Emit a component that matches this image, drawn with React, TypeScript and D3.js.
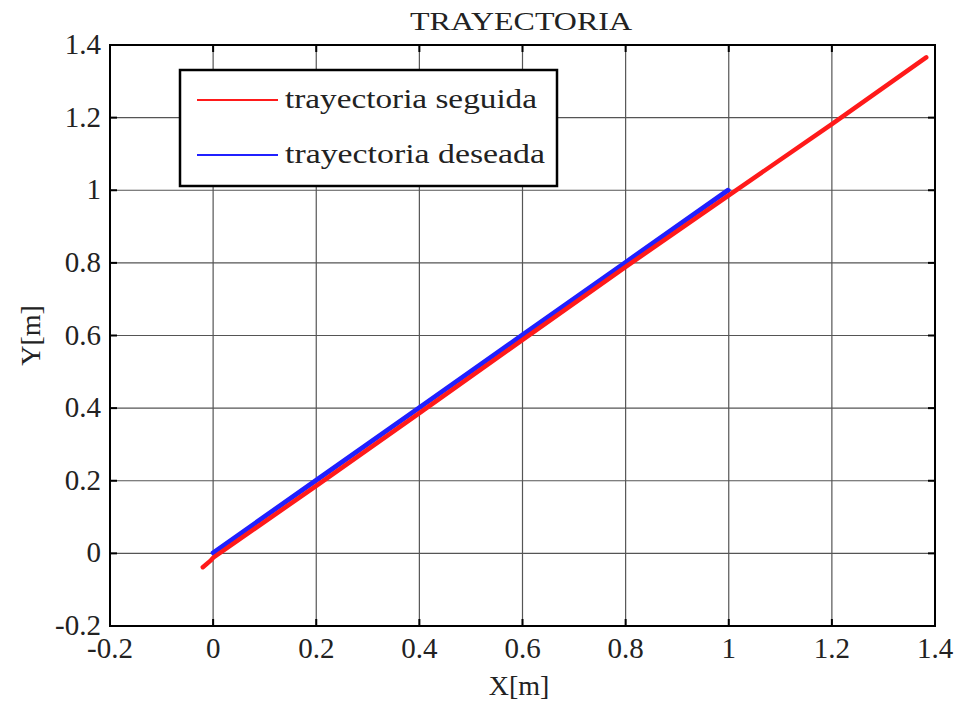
import React from "react";
import * as d3 from "d3";

const xTicks = [-0.2, 0, 0.2, 0.4, 0.6, 0.8, 1, 1.2, 1.4];
const yTicks = [-0.2, 0, 0.2, 0.4, 0.6, 0.8, 1, 1.2, 1.4];
const seguidaX = [-0.02, -0.005, 0.0, 0.2, 0.4, 0.6, 0.8, 1.0, 1.2, 1.383];
const seguidaY = [-0.038, -0.02, -0.012, 0.186, 0.386, 0.588, 0.789, 0.986, 1.182, 1.366];
const deseadaX = [0, 0.2, 0.4, 0.6, 0.8, 1.0];
const deseadaY = [0, 0.2, 0.4, 0.6, 0.8, 1.0];
const legendLabels = ["trayectoria seguida", "trayectoria deseada"];
const colors = ["#ff1a1a", "#2020ff"];

const W = 958, H = 706;
const L = 110, R = 935, T = 45, B = 626;
const FONT = "Liberation Serif, Times New Roman, serif";

export default function App() {
  const x = d3.scaleLinear().domain([-0.2, 1.4]).range([L, R]);
  const y = d3.scaleLinear().domain([-0.2, 1.4]).range([B, T]);
  const line = d3.line<[number, number]>().x(d => x(d[0])).y(d => y(d[1]));
  const red = seguidaX.map((v, i) => [v, seguidaY[i]] as [number, number]);
  const blue = deseadaX.map((v, i) => [v, deseadaY[i]] as [number, number]);
  const fmt = (v: number) => (Math.abs(v) < 1e-9 ? "0" : String(+v.toFixed(1)));
  return (
    <svg width={W} height={H} style={{ position: "absolute", left: 0, top: 0, background: "#fff", fontFamily: FONT }}>
      <rect x={0} y={0} width={W} height={H} fill="#fff" />
      {xTicks.map(t => (
        <line key={"gx" + t} x1={x(t)} x2={x(t)} y1={T} y2={B} stroke="#555" strokeWidth={1.2} />
      ))}
      {yTicks.map(t => (
        <line key={"gy" + t} x1={L} x2={R} y1={y(t)} y2={y(t)} stroke="#555" strokeWidth={1.2} />
      ))}
      {xTicks.map(t => (
        <g key={"tx" + t}>
          <line x1={x(t)} x2={x(t)} y1={B} y2={B - 7} stroke="#000" strokeWidth={2} />
          <line x1={x(t)} x2={x(t)} y1={T} y2={T + 7} stroke="#000" strokeWidth={2} />
          <text x={x(t)} y={658} textAnchor="middle" fontSize={29} fill="#222" style={{ fontFamily: FONT }}>{fmt(t)}</text>
        </g>
      ))}
      {yTicks.map(t => (
        <g key={"ty" + t}>
          <line x1={L} x2={L + 7} y1={y(t)} y2={y(t)} stroke="#000" strokeWidth={2} />
          <line x1={R} x2={R - 7} y1={y(t)} y2={y(t)} stroke="#000" strokeWidth={2} />
          <text x={101} y={y(t) + 9} textAnchor="end" fontSize={29} fill="#222" style={{ fontFamily: FONT }}>{fmt(t)}</text>
        </g>
      ))}
      <path d={line(blue) || ""} fill="none" stroke={colors[1]} strokeWidth={4} strokeLinecap="round" />
      <path d={line(red) || ""} fill="none" stroke={colors[0]} strokeWidth={4.5} strokeLinecap="round" strokeLinejoin="round" />
      <path d={line(blue) || ""} fill="none" stroke={colors[1]} strokeWidth={3} strokeLinecap="round" transform="translate(-1,-1)" />
      <rect x={L} y={T} width={R - L} height={B - T} fill="none" stroke="#000" strokeWidth={2} />
      <rect x={180} y={70} width={377} height={116} fill="#fff" stroke="#000" strokeWidth={2.5} />
      {legendLabels.map((lab, i) => {
        const ly = i === 0 ? 100 : 155;
        return (
          <g key={lab}>
            <line x1={197} x2={278} y1={ly} y2={ly} stroke={colors[i]} strokeWidth={2} />
            <text x={285} y={ly + 8} fontSize={27} fill="#222" style={{ fontFamily: FONT }} textLength={i === 0 ? 252 : 260} lengthAdjust="spacingAndGlyphs">{lab}</text>
          </g>
        );
      })}
      <text x={521} y={30} textAnchor="middle" fontSize={26} fill="#222" style={{ fontFamily: FONT }} textLength={222} lengthAdjust="spacingAndGlyphs">TRAYECTORIA</text>
      <text x={519} y={695} textAnchor="middle" fontSize={28} fill="#222" style={{ fontFamily: FONT }}>X[m]</text>
      <text transform={`translate(40,${(T + B) / 2}) rotate(-90)`} textAnchor="middle" fontSize={28} fill="#222" style={{ fontFamily: FONT }}>Y[m]</text>
    </svg>
  );
}
